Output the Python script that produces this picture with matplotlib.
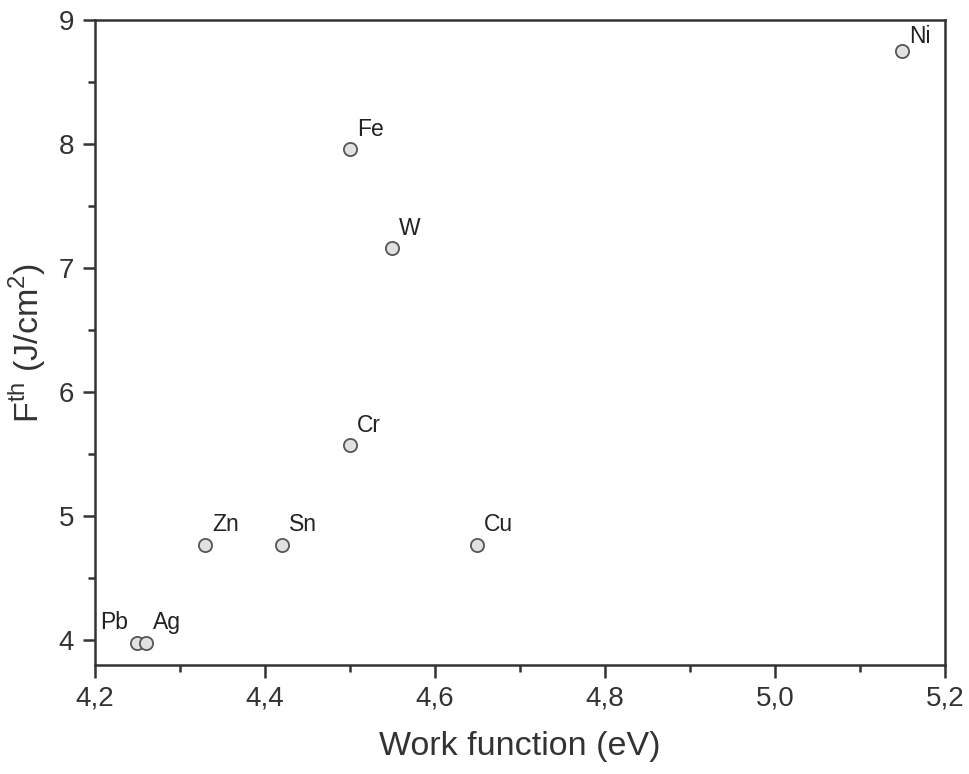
import matplotlib
matplotlib.use("Agg")
from matplotlib import pyplot as plt
from matplotlib.ticker import MultipleLocator, FuncFormatter

# data
metals = ["Pb", "Ag", "Zn", "Sn", "Cr", "Fe", "W", "Cu", "Ni"]
work_function = [4.25, 4.26, 4.33, 4.42, 4.50, 4.50, 4.55, 4.65, 5.15]
fluence_th = [3.98, 3.98, 4.77, 4.77, 5.57, 7.96, 7.16, 4.77, 8.75]

# label offsets in points
offsets = {"Pb": (-27, 6), "Ni": (5, 2)}

plt.rcParams["font.family"] = ["Liberation Sans", "DejaVu Sans"]

fig = plt.figure(figsize=(9.69, 7.74), dpi=100)
ax = fig.add_axes([0.098, 0.141, 0.877, 0.833])

ax.plot(work_function, fluence_th, linestyle="none", marker="o", markersize=9.5,
        markerfacecolor="#dfe2e2", markeredgecolor="#555555", markeredgewidth=1.3)

for name, x, y in zip(metals, work_function, fluence_th):
    dx, dy = offsets.get(name, (5, 6))
    ax.annotate(name, (x, y), xytext=(dx, dy), textcoords="offset points",
                fontsize=16.5, color="#222222", ha="left", va="bottom")

ax.set_xlim(4.2, 5.2)
ax.set_ylim(3.8, 9.0)
ax.xaxis.set_major_locator(MultipleLocator(0.2))
ax.xaxis.set_minor_locator(MultipleLocator(0.1))
ax.yaxis.set_major_locator(MultipleLocator(1))
ax.yaxis.set_minor_locator(MultipleLocator(0.5))
ax.xaxis.set_major_formatter(FuncFormatter(lambda v, p: f"{v:.1f}".replace(".", ",")))
ax.yaxis.set_major_formatter(FuncFormatter(lambda v, p: f"{v:.0f}"))

for s in ax.spines.values():
    s.set_linewidth(1.8)
    s.set_color("#333333")
ax.tick_params(which="both", direction="out", color="#333333", width=1.8)
ax.tick_params(which="major", length=9, labelsize=20, labelcolor="#333333", pad=6)
ax.tick_params(which="minor", length=5)

ax.set_xlabel("Work function (eV)", fontsize=24.5, color="#333333", labelpad=14)
ax.set_ylabel(r"F$^{\mathregular{th}}$ (J/cm$^{\mathregular{2}}$)", fontsize=24.5,
              color="#333333", labelpad=8)

fig.savefig("out.png", dpi=100)
